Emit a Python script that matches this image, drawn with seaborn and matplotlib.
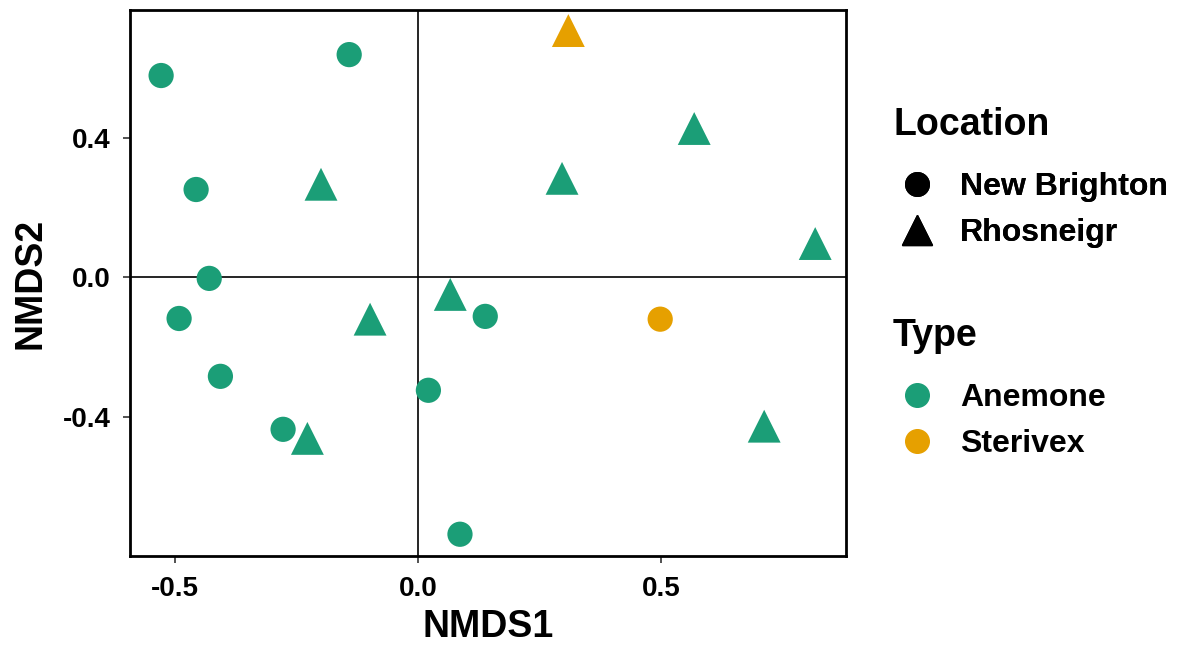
import numpy as np
import pandas as pd
import matplotlib
matplotlib.use("Agg")
import matplotlib.pyplot as plt
from matplotlib.lines import Line2D
import seaborn as sns

sns.set_style("white")
plt.rcParams["font.family"] = ["Liberation Sans", "DejaVu Sans"]
plt.rcParams["font.weight"] = "bold"
plt.rcParams["text.color"] = "black"
plt.rcParams["axes.labelcolor"] = "black"

# NMDS 坐标
nmds1 = [-0.529, -0.142, -0.457, -0.430, -0.492, -0.407, -0.278, 0.021, 0.138, 0.086, 0.498,
         -0.200, -0.099, -0.228, 0.066, 0.296, 0.568, 0.817, 0.712, 0.309]
nmds2 = [0.579, 0.639, 0.252, -0.003, -0.118, -0.284, -0.436, -0.324, -0.112, -0.737, -0.120,
         0.267, -0.120, -0.462, -0.049, 0.284, 0.427, 0.097, -0.427, 0.708]
location = ["New Brighton"] * 11 + ["Rhosneigr"] * 9
sample_type = ["Anemone"] * 10 + ["Sterivex"] + ["Anemone"] * 8 + ["Sterivex"]

df = pd.DataFrame({"NMDS1": nmds1, "NMDS2": nmds2, "Location": location, "Type": sample_type})

colors = {"Anemone": "#1B9E77", "Sterivex": "#E6A000"}
markers = {"New Brighton": "o", "Rhosneigr": "^"}
sizes = {"New Brighton": 330, "Rhosneigr": 560}

fig = plt.figure(figsize=(11.82, 6.46), dpi=100)
ax = fig.add_axes([0.110, 0.139, 0.606, 0.845])

ax.axhline(0, color="black", lw=1.2, zorder=0)
ax.axvline(0, color="black", lw=1.2, zorder=0)

# 两种地点分别画，三角形要大一些
for loc_name in markers:
    sub = df[df["Location"] == loc_name]
    sns.scatterplot(data=sub, x="NMDS1", y="NMDS2", hue="Type", palette=colors,
                    marker=markers[loc_name], s=sizes[loc_name], linewidth=0,
                    legend=False, ax=ax)

ax.set_xlim(-0.593, 0.881)
ax.set_ylim(-0.800, 0.766)
ax.set_xticks([-0.5, 0.0, 0.5])
ax.set_xticklabels(["-0.5", "0.0", "0.5"])
ax.set_yticks([-0.4, 0.0, 0.4])
ax.set_yticklabels(["-0.4", "0.0", "0.4"])
ax.tick_params(axis="both", labelsize=20, length=5, width=1.2, color="#333333",
               direction="out", bottom=True, left=True, labelcolor="black", pad=9)
ax.set_xlabel("NMDS1", fontsize=27, fontweight="bold", labelpad=5)
ax.set_ylabel("NMDS2", fontsize=27, fontweight="bold", labelpad=10)
for sp in ax.spines.values():
    sp.set_color("black")
    sp.set_linewidth(2)

# 图例（标题单独用 fig.text 放）
leg_kw = dict(loc="upper left", frameon=False, fontsize=23,
              handlelength=1.5, handletextpad=0.6, labelspacing=0.49, borderpad=0.2)
loc_handles = [Line2D([], [], marker="o", color="black", ls="", markersize=17),
               Line2D([], [], marker="^", color="black", ls="", markersize=22)]
leg1 = fig.legend(loc_handles, list(markers.keys()), bbox_to_anchor=(0.7365, 0.768), **leg_kw)
fig.add_artist(leg1)
fig.text(0.7555, 0.8065, "Location", fontsize=27, fontweight="bold", va="center", ha="left")

type_handles = [Line2D([], [], marker="o", color=colors[k], ls="", markersize=17) for k in colors]
leg2 = fig.legend(type_handles, list(colors.keys()), bbox_to_anchor=(0.7365, 0.441), **leg_kw)
fig.text(0.7555, 0.480, "Type", fontsize=27, fontweight="bold", va="center", ha="left")

fig.savefig("out.png", dpi=100)
